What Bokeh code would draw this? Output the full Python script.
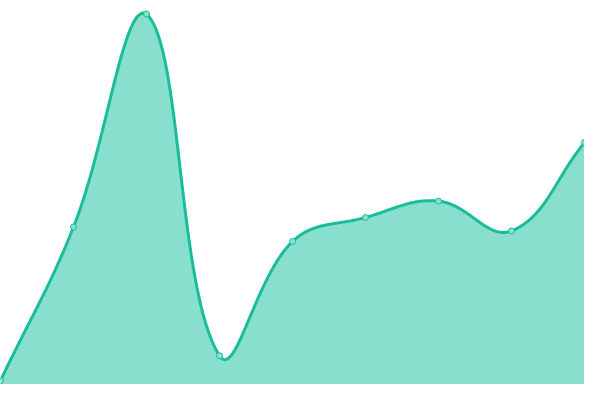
import numpy as np
from bokeh.plotting import figure
from bokeh.models import Range1d
from bokeh.embed import file_html
from bokeh.resources import INLINE

# data
categories = ["A", "B", "C", "D", "E", "F", "G", "H", "I"]
values = [1, 41, 96.5, 7.5, 37.25, 43.5, 47.75, 40, 63]
y_min, y_max = 0, 100

W, H = 584, 384
n = len(values)
TENSION = 0.4

# positions in pixel space (for spline control-point computation, like Chart.js)
px = [i * W / (n - 1) for i in range(n)]
py = [H - (v - y_min) / (y_max - y_min) * H for v in values]

cp_prev, cp_next = [], []
for i in range(n):
    cx, cy = px[i], py[i]
    pxp, pyp = (px[i - 1], py[i - 1]) if i > 0 else (cx, cy)
    pxn, pyn = (px[i + 1], py[i + 1]) if i < n - 1 else (cx, cy)
    d01 = np.hypot(cx - pxp, cy - pyp)
    d12 = np.hypot(pxn - cx, pyn - cy)
    tot = d01 + d12
    s01 = d01 / tot if tot else 0
    s12 = d12 / tot if tot else 0
    fa, fb = TENSION * s01, TENSION * s12
    a = (cx - fa * (pxn - pxp), cy - fa * (pyn - pyp))
    b = (cx + fb * (pxn - pxp), cy + fb * (pyn - pyp))
    clamp = lambda q: (min(max(q[0], 0), W), min(max(q[1], 0), H))
    cp_prev.append(clamp(a))
    cp_next.append(clamp(b))

cx_pts, cy_pts = [], []
ts = np.linspace(0, 1, 40)
for i in range(n - 1):
    P0 = np.array([px[i], py[i]])
    P1 = np.array(cp_next[i])
    P2 = np.array(cp_prev[i + 1])
    P3 = np.array([px[i + 1], py[i + 1]])
    for t in (ts if i == 0 else ts[1:]):
        q = (1 - t) ** 3 * P0 + 3 * (1 - t) ** 2 * t * P1 + 3 * (1 - t) * t ** 2 * P2 + t ** 3 * P3
        cx_pts.append(q[0] / W * (n - 1))
        cy_pts.append((H - q[1]) / H * (y_max - y_min) + y_min)

p = figure(width=W, height=H, output_backend="svg", toolbar_location=None,
           x_range=Range1d(0, n - 1), y_range=Range1d(y_min, y_max),
           x_axis_type=None, y_axis_type=None, min_border=0)
p.grid.visible = False
p.outline_line_color = None
p.background_fill_color = "white"
p.border_fill_color = "white"

p.patch(cx_pts + [n - 1, 0], cy_pts + [y_min, y_min],
        fill_color="#88dfce", line_color=None)
p.line(cx_pts, cy_pts, line_color="#1abc9c", line_width=3)
p.scatter(list(range(n)), values, size=6, fill_color="#8de0d0",
          line_color="#1abc9c", line_width=1)

open("out.html", "w").write(file_html(p, INLINE))
